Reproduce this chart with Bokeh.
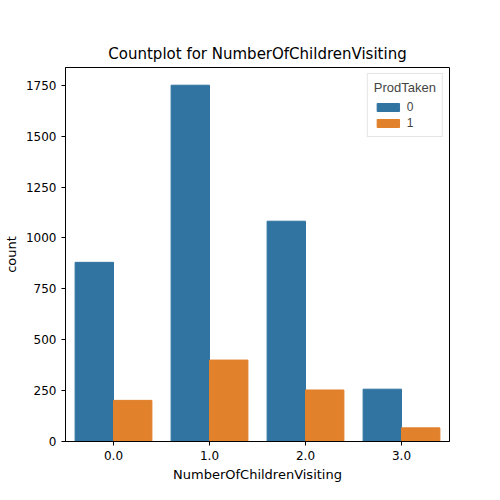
from bokeh.plotting import figure
from bokeh.models import ColumnDataSource, FixedTicker, Range1d, Legend, LegendItem
from bokeh.embed import file_html
from bokeh.resources import INLINE

categories = ["0.0", "1.0", "2.0", "3.0"]
not_taken = [880, 1750, 1082, 257]
taken = [202, 400, 253, 67]

xs = list(range(len(categories)))
src = ColumnDataSource(dict(
    x0=[x - 0.2 for x in xs], x1=[x + 0.2 for x in xs], n0=not_taken, n1=taken))

p = figure(width=484, height=484, output_backend="svg", toolbar_location=None,
           x_range=Range1d(-0.5, 3.5), y_range=Range1d(0, 1837),
           min_border_left=48, min_border_right=35, min_border_top=67, min_border_bottom=39,
           title="Countplot for NumberOfChildrenVisiting")
p.title.align = "center"
p.title.text_font_size = "15px"
p.title.text_font_style = "normal"
p.title.text_font = "DejaVu Sans"
p.title.text_color = "black"

r0 = p.vbar(x="x0", top="n0", width=0.4, source=src, color="#3274a1")
r1 = p.vbar(x="x1", top="n1", width=0.4, source=src, color="#e1812c")

p.xaxis.ticker = FixedTicker(ticks=xs)
p.xaxis.major_label_overrides = {i: c for i, c in enumerate(categories)}
p.yaxis.ticker = FixedTicker(ticks=[0, 250, 500, 750, 1000, 1250, 1500, 1750])
p.xaxis.axis_label = "NumberOfChildrenVisiting"
p.yaxis.axis_label = "count"
for ax in (p.xaxis, p.yaxis):
    ax.axis_label_text_font_style = "normal"
    ax.axis_label_text_font_size = "13px"
    ax.axis_label_text_font = "DejaVu Sans"
    ax.axis_label_text_color = "black"
    ax.axis_label_standoff = 4
    ax.major_label_text_font_size = "12px"
    ax.major_label_text_font = "DejaVu Sans"
    ax.major_label_text_color = "black"
    ax.minor_tick_line_color = None
    ax.axis_line_color = "black"
    ax.major_tick_out = 4
    ax.major_tick_in = 0
p.grid.grid_line_color = None
p.outline_line_color = "black"

legend = Legend(items=[LegendItem(label="0", renderers=[r0]), LegendItem(label="1", renderers=[r1])],
                title="ProdTaken", location="top_right", label_text_font_size="12px",
                title_text_font_size="13px", title_text_font_style="normal",
                border_line_color="#cccccc", glyph_width=28, glyph_height=10,
                spacing=2, padding=6, margin=6)
p.add_layout(legend)

open("out.html", "w").write(file_html(p, INLINE))
